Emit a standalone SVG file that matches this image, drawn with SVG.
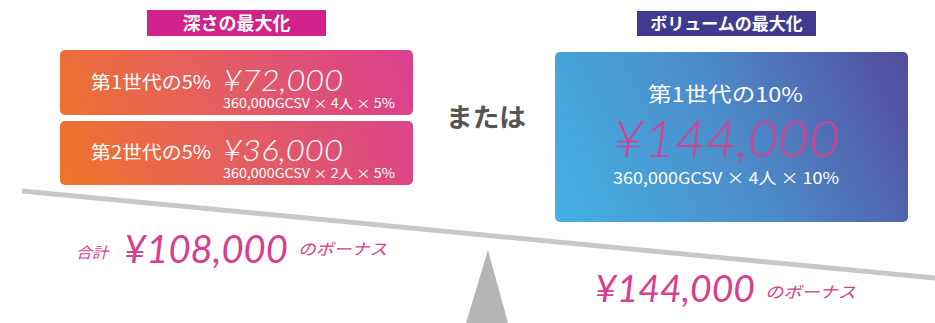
<svg xmlns="http://www.w3.org/2000/svg" width="935" height="323" viewBox="0 0 935 323">
<defs>
<linearGradient id="gOrange1" gradientUnits="userSpaceOnUse" x1="60" y1="185" x2="413" y2="50">
<stop offset="0" stop-color="#EE7526"/>
<stop offset="0.4" stop-color="#E6625A"/>
<stop offset="1" stop-color="#D8408F"/>
</linearGradient>
<linearGradient id="gBlue" gradientUnits="userSpaceOnUse" x1="555" y1="222" x2="908" y2="52">
<stop offset="0" stop-color="#44B1E4"/>
<stop offset="0.5" stop-color="#4C8CCA"/>
<stop offset="1" stop-color="#544B9D"/>
</linearGradient>
<style>
.jp{font-family:"Noto Sans CJK JP","Noto Sans",sans-serif;}
.num{font-family:"Lato","Noto Sans",sans-serif;font-weight:300;}
.tot{font-family:"Lato","Noto Sans",sans-serif;font-weight:400;}
.w{fill:#ffffff;}
.pk{fill:#D6408F;}
.lbl{font-family:"Noto Sans CJK JP",sans-serif;font-weight:bold;fill:#ffffff;text-anchor:middle;}
</style>
</defs>
<g id="beam">
<line x1="22" y1="191" x2="935" y2="278" stroke="#C8C8C8" stroke-width="5"/>
<polygon points="488,250 508,323 466,323" fill="#B4B6B5"/>
</g>
<g id="label-depth">
<rect x="147" y="10" width="179" height="26" fill="#D1218A"/>
<text class="lbl" x="236.5" y="30" font-size="18">深さの最大化</text>
</g>
<g id="label-volume">
<rect x="637" y="11" width="179" height="25" fill="#413A8F"/>
<text class="lbl" x="726.5" y="30" font-size="17">ボリュームの最大化</text>
</g>
<g id="box-gen1">
<rect x="60" y="50" width="353" height="65" rx="5" fill="url(#gOrange1)"/>
<text class="jp w" x="91" y="89" font-size="18" textLength="120" lengthAdjust="spacingAndGlyphs">第1世代の5%</text>
<text class="num w" x="223" y="91" font-size="30" font-style="italic" textLength="120" lengthAdjust="spacingAndGlyphs">¥72,000</text>
<text class="jp w" x="223" y="108" font-size="13" textLength="172" lengthAdjust="spacingAndGlyphs">360,000GCSV × 4人 × 5%</text>
</g>
<g id="box-gen2">
<rect x="60" y="121" width="353" height="64" rx="5" fill="url(#gOrange1)"/>
<text class="jp w" x="91" y="159" font-size="18" textLength="120" lengthAdjust="spacingAndGlyphs">第2世代の5%</text>
<text class="num w" x="223" y="161" font-size="30" font-style="italic" textLength="120" lengthAdjust="spacingAndGlyphs">¥36,000</text>
<text class="jp w" x="223" y="178" font-size="13" textLength="172" lengthAdjust="spacingAndGlyphs">360,000GCSV × 2人 × 5%</text>
</g>
<g id="or">
<text class="jp" x="446" y="127" font-size="26" font-weight="bold" fill="#555555" textLength="80" lengthAdjust="spacingAndGlyphs">または</text>
</g>
<g id="box-volume">
<rect x="555" y="52" width="353" height="170" rx="5" fill="url(#gBlue)"/>
<text class="jp w" x="648" y="102" font-size="20" textLength="155" lengthAdjust="spacingAndGlyphs">第1世代の10%</text>
<text class="num pk" x="613" y="157" font-size="52" font-style="italic" textLength="227" lengthAdjust="spacingAndGlyphs">¥144,000</text>
<text class="jp w" x="613" y="184" font-size="16" textLength="226" lengthAdjust="spacingAndGlyphs">360,000GCSV × 4人 × 10%</text>
</g>
<g id="total-left">
<text class="jp pk" x="76" y="258" font-size="15" font-style="italic" textLength="32" lengthAdjust="spacingAndGlyphs">合計</text>
<text class="tot pk" x="124" y="263" font-size="38" font-style="italic" textLength="164" lengthAdjust="spacingAndGlyphs">¥108,000</text>
<text class="jp pk" x="298" y="255" font-size="16" font-style="italic" textLength="89" lengthAdjust="spacingAndGlyphs">のボーナス</text>
</g>
<g id="total-right">
<text class="tot pk" x="595" y="302" font-size="36" font-style="italic" textLength="160" lengthAdjust="spacingAndGlyphs">¥144,000</text>
<text class="jp pk" x="765" y="298" font-size="16" font-style="italic" textLength="91" lengthAdjust="spacingAndGlyphs">のボーナス</text>
</g>
</svg>
